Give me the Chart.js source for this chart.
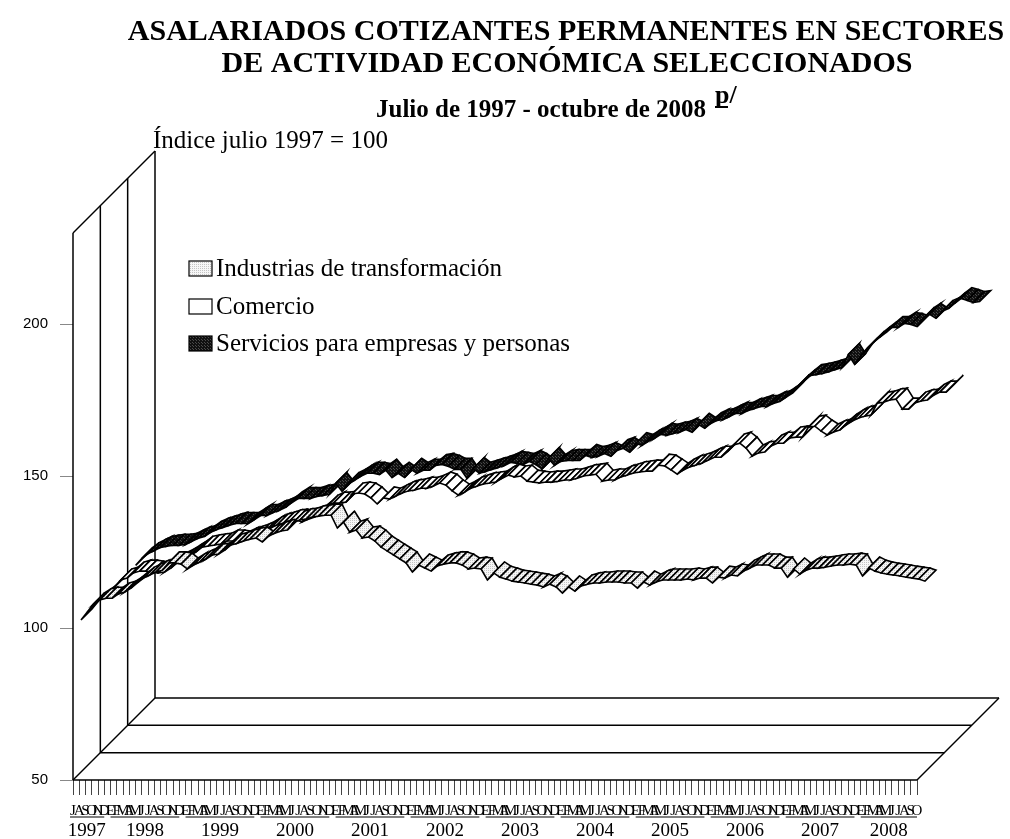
<!DOCTYPE html>
<html><head><meta charset="utf-8">
<style>html,body{margin:0;padding:0;background:#fff}canvas{display:block}</style>
<script src="https://cdn.jsdelivr.net/npm/chart.js@4"></script></head>
<body><canvas id="c" width="1010" height="839"></canvas>
<script>
const monthLetters = ["J","A","S","O","N","D",
"E","F","M","A","M","J","J","A","S","O","N","D","E","F","M","A","M","J","J","A","S","O","N","D",
"E","F","M","A","M","J","J","A","S","O","N","D","E","F","M","A","M","J","J","A","S","O","N","D",
"E","F","M","A","M","J","J","A","S","O","N","D","E","F","M","A","M","J","J","A","S","O","N","D",
"E","F","M","A","M","J","J","A","S","O","N","D","E","F","M","A","M","J","J","A","S","O","N","D",
"E","F","M","A","M","J","J","A","S","O","N","D","E","F","M","A","M","J","J","A","S","O","N","D",
"E","F","M","A","M","J","J","A","S","O"];
const years = ["1997","1998","1999","2000","2001","2002","2003","2004","2005","2006","2007","2008"];
const monthsInYear = [6,12,12,12,12,12,12,12,12,12,12,10];
const seriesNames = ["Industrias de transformación","Comercio","Servicios para empresas y personas"];
const industrias = [
100.0,102.6,105.3,106.6,107.2,107.2,
108.6,109.2,110.5,112.2,113.8,114.8,115.8,116.4,118.8,118.8,118.4,116.8,
118.1,119.1,120.1,121.4,121.7,123.0,124.7,125.3,126.0,126.6,127.0,125.7,
127.6,128.6,129.3,129.6,132.2,132.9,133.2,133.9,134.2,134.5,134.5,130.3,
132.2,128.9,129.6,127.0,127.3,126.0,124.0,122.7,121.4,120.1,118.8,115.8,
118.1,117.1,116.1,117.8,118.4,118.8,118.8,118.1,116.8,117.1,116.8,113.2,
115.5,114.1,113.5,112.8,112.5,112.2,111.8,111.5,110.9,111.8,110.9,108.9,
110.9,109.5,111.2,111.8,112.2,112.2,112.5,112.5,112.5,112.2,112.2,110.5,
112.5,111.5,112.5,113.2,113.2,113.2,113.2,113.5,113.2,113.8,113.8,112.2,
114.1,113.8,114.8,114.5,116.1,117.1,118.1,118.1,118.1,117.1,117.1,114.1,
116.8,115.1,116.4,117.1,117.1,117.4,117.8,118.1,118.1,118.4,118.1,114.5,
117.1,116.1,115.5,115.1,114.8,114.5,114.1,113.8,113.5,112.8];
const comercio = [
100.0,101.9,104.2,104.8,106.5,107.1,
107.1,106.8,106.5,106.8,108.1,109.8,110.8,112.1,113.4,115.0,115.4,115.7,
116.0,117.0,117.0,116.7,117.7,118.3,119.0,120.0,121.3,122.3,122.9,123.6,
123.9,123.3,124.2,124.9,126.5,128.5,129.5,129.5,129.8,132.5,132.8,132.5,
131.2,129.2,131.2,130.8,131.8,132.8,133.5,133.8,134.4,134.4,135.1,136.1,
135.4,133.5,132.1,133.1,134.4,135.1,135.8,136.1,136.4,137.7,138.7,138.1,
138.4,136.7,136.4,136.1,136.4,136.4,136.7,137.1,137.1,137.7,138.4,138.7,
139.0,136.7,137.1,137.1,138.1,138.7,139.4,139.7,140.0,140.0,142.0,141.7,
140.4,139.0,140.4,141.4,142.0,142.7,143.7,144.6,144.6,146.3,148.6,149.2,
147.6,145.0,146.0,146.3,148.3,149.2,149.2,150.9,151.2,151.2,154.5,154.8,
153.2,151.9,152.9,153.5,155.2,156.5,157.5,158.1,158.5,162.4,162.7,163.4,
163.7,160.4,160.4,162.4,163.1,163.4,165.0,166.0,166.0,168.0];
const servicios = [
100.0,102.3,103.9,104.9,105.9,106.3,
106.6,106.6,106.9,107.9,108.9,109.5,110.9,111.8,112.5,113.2,113.8,113.8,
113.8,115.1,116.4,116.4,117.4,118.1,119.1,120.7,122.0,122.0,122.0,122.7,
123.0,123.4,127.0,124.4,127.0,128.0,129.3,130.3,130.3,129.9,131.3,128.9,
130.3,128.9,131.6,130.3,131.3,131.3,132.9,133.2,132.6,131.6,131.6,128.6,
131.9,130.3,130.9,131.6,132.2,132.9,133.9,133.6,133.2,134.2,133.2,131.7,
135.2,132.9,134.2,134.5,134.5,134.5,136.2,135.5,135.9,136.8,135.9,137.8,
138.5,137.2,140.1,139.5,140.8,141.8,143.1,142.8,143.4,143.8,144.7,143.8,
146.4,145.1,146.7,147.7,148.0,149.0,150.0,150.0,151.0,151.6,152.3,152.3,
153.3,153.9,155.3,156.6,159.2,160.9,162.5,162.8,163.2,163.8,164.5,165.1,
169.4,166.1,169.1,171.4,173.4,175.0,176.6,178.3,178.3,179.6,179.3,178.6,
181.3,182.6,181.3,183.6,184.5,186.2,187.8,187.2,186.5,186.8];

const SERIF = '"Liberation Serif","Times New Roman",serif';
const WALL_DEPTH = 82, SLOTS = 3, RIB_FRONT = 8, RIB_BACK = 19;

function makePattern(base, dot, step){
  const p = document.createElement('canvas'); p.width = p.height = step;
  const g = p.getContext('2d');
  g.fillStyle = base; g.fillRect(0,0,step,step);
  g.fillStyle = dot; g.fillRect(0,0,1,1);
  if(step>2) g.fillRect(Math.floor(step/2),Math.floor(step/2),1,1);
  return document.createElement('canvas').getContext('2d').createPattern(p,'repeat');
}
const fills = [makePattern('#f6f6f6','#c4c4c4',2), '#ffffff', makePattern('#111111','#4a4a4a',3)];

class RibbonController extends Chart.LineController {
  draw(){
    const meta = this.getMeta(), pts = meta.data, ctx = this.chart.ctx, slot = this.index;
    const sd = WALL_DEPTH / SLOTS, f = slot*sd + RIB_FRONT, b = slot*sd + RIB_BACK;
    ctx.save();
    ctx.lineWidth = 1.6; ctx.strokeStyle = '#000'; ctx.lineJoin = 'miter';
    ctx.fillStyle = fills[slot];
    for(let i=0;i<pts.length-1;i++){
      const p=pts[i], q=pts[i+1];
      ctx.beginPath();
      ctx.moveTo(p.x+f,p.y-f); ctx.lineTo(q.x+f,q.y-f);
      ctx.lineTo(q.x+b,q.y-b); ctx.lineTo(p.x+b,p.y-b); ctx.closePath();
      ctx.fill(); ctx.stroke();
    }
    ctx.restore();
  }
}
RibbonController.id = 'ribbon';
RibbonController.defaults = Chart.LineController.defaults;
Chart.register(RibbonController);

const framePlugin = {
  id:'frame',
  beforeDatasetsDraw(chart){
    const {ctx,chartArea:a}=chart, d=WALL_DEPTH;
    ctx.save(); ctx.strokeStyle='#000'; ctx.lineWidth=1.5;
    const line=(x1,y1,x2,y2)=>{ctx.beginPath();ctx.moveTo(x1,y1);ctx.lineTo(x2,y2);ctx.stroke();};
    for(let s=0;s<=SLOTS;s++){
      const o=s*d/SLOTS;
      line(a.left+o,a.top-o,a.left+o,a.bottom-o);
      line(a.left+o,a.bottom-o,a.right+o,a.bottom-o);
    }
    line(a.left,a.top,a.left+d,a.top-d);
    line(a.left,a.bottom,a.left+d,a.bottom-d);
    line(a.right,a.bottom,a.right+d,a.bottom-d);
    ctx.restore();
  }
};
const textPlugin = {
  id:'texts',
  afterDraw(chart){
    const {ctx,scales:{x}}=chart;
    ctx.save(); ctx.fillStyle='#000'; ctx.textBaseline='alphabetic';
    ctx.textAlign='center';
    ctx.font='bold 30px '+SERIF;
    ctx.fillText('ASALARIADOS COTIZANTES PERMANENTES EN SECTORES',566,40);
    ctx.fillText('DE ACTIVIDAD ECONÓMICA SELECCIONADOS',567,72);
    ctx.textAlign='left';
    ctx.font='bold 25px '+SERIF;
    ctx.fillText('Julio de 1997 - octubre de 2008',376,117);
    ctx.font='bold 26px '+SERIF;
    ctx.fillText('p/',715,103);
    ctx.fillRect(715,106,13,2);
    ctx.font='25px '+SERIF;
    ctx.fillText('Índice julio 1997 = 100',153,148);
    // legend
    const rows=[269,307,344];
    seriesNames.forEach((n,k)=>{
      ctx.fillStyle=fills[k]; ctx.fillRect(189,rows[k]-8,23,15);
      ctx.strokeStyle='#000'; ctx.lineWidth=1.2; ctx.strokeRect(189,rows[k]-8,23,15);
      ctx.fillStyle='#000'; ctx.font='25px '+SERIF;
      ctx.fillText(n,216,rows[k]+7);
    });
    // year groups
    let start=0;
    ctx.textAlign='center'; ctx.font='19px '+SERIF;
    years.forEach((y,k)=>{
      const end=start+monthsInYear[k]-1;
      const x0=x.getPixelForValue(start)-(k===0?3:0), x1=x.getPixelForValue(end);
      ctx.fillRect(x0,816.5,x1-x0,1);
      ctx.fillText(y,(x.getPixelForValue(start)+x1)/2-(k===0?2:0),836);
      start=end+1;
    });
    ctx.restore();
  }
};
new Chart(document.getElementById('c'),{
  type:'ribbon',
  data:{labels:monthLetters,datasets:[
    {label:seriesNames[0],data:industrias,clip:false,pointRadius:0},
    {label:seriesNames[1],data:comercio,clip:false,pointRadius:0},
    {label:seriesNames[2],data:servicios,clip:false,pointRadius:0}
  ]},
  options:{
    responsive:false,animation:false,
    layout:{padding:{top:233,right:93,left:0,bottom:0}},
    plugins:{legend:{display:false},title:{display:false},tooltip:{enabled:false}},
    scales:{
      x:{type:'category',offset:false,
        afterFit(s){s.height=59;},
        border:{display:false},
        grid:{drawOnChartArea:false,drawTicks:true,tickLength:15,tickColor:'#444',tickWidth:1},
        ticks:{autoSkip:false,maxRotation:0,minRotation:0,padding:7,color:'#000',font:{family:SERIF,size:15}}},
      y:{type:'linear',min:50,max:230,
        afterFit(s){s.width=73;},
        border:{display:false},
        grid:{drawOnChartArea:false,drawTicks:true,tickLength:13,tickColor:'#888'},
        ticks:{stepSize:50,includeBounds:false,padding:12,color:'#000',font:{family:'"Liberation Sans",Arial,sans-serif',size:15}}}
    }
  },
  plugins:[framePlugin,textPlugin]
});
</script></body></html>
